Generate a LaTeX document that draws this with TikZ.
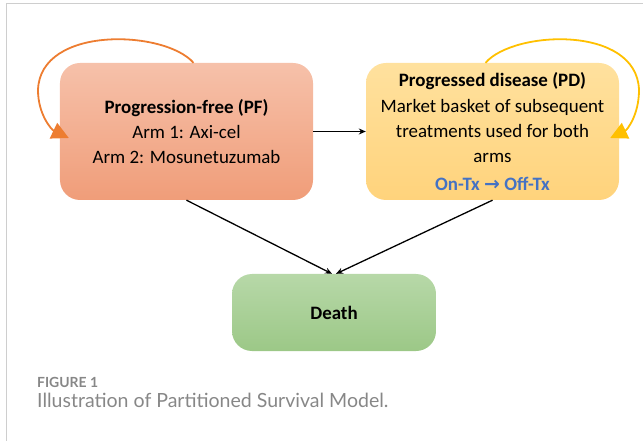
\documentclass[tikz,border=0pt]{standalone}
\usepackage{fontspec}
\setmainfont{Carlito}
\newfontfamily\arrowfont{DejaVu Sans}
\newfontfamily\capfont{Lato}
\usetikzlibrary{arrows.meta}
\definecolor{pfTop}{RGB}{246,193,170}
\definecolor{pfBot}{RGB}{240,157,121}
\definecolor{pdTop}{RGB}{255,225,158}
\definecolor{pdBot}{RGB}{255,211,124}
\definecolor{deTop}{RGB}{183,216,168}
\definecolor{deBot}{RGB}{156,200,135}
\definecolor{loopOrange}{RGB}{237,125,49}
\definecolor{loopYellow}{RGB}{255,192,0}
\definecolor{txBlue}{RGB}{68,114,196}
\definecolor{frameGray}{RGB}{206,206,206}
\definecolor{capGray}{RGB}{135,135,135}
\tikzset{
	state/.style={rounded corners=20bp, inner sep=0pt, align=center, font=\fontsize{19}{25.5}\selectfont},
	trans/.style={-{Stealth[length=7bp,width=6bp]}, line width=1.3bp},
	selfloop/.style={line width=1.8bp, -{Triangle[length=17bp,width=17bp]}},
}
\begin{document}
\begin{tikzpicture}[x=1bp, y=-1bp]
		\useasboundingbox (0,0) rectangle (643,441);
		%frame
		\draw[frameGray, line width=1bp] (643,4) -- (6,4) -- (6,441);
		
		%states
		\node (pf) at (186.5,131.5)[state, minimum width=253bp, minimum height=137bp, top color=pfTop, bottom color=pfBot]{\textbf{Progression-free (PF)}\\Arm 1: Axi-cel\\Arm 2: Mosunetuzumab};
		\node (pd) at (492.5,131.5)[state, minimum width=253bp, minimum height=137bp, top color=pdTop, bottom color=pdBot]{\textbf{Progressed disease (PD)}\\Market basket of subsequent\\treatments used for both\\arms\\[2bp]\color{txBlue}\textbf{On-Tx {\arrowfont →} Off-Tx}};
		\node (death) at (334,312.5)[state, minimum width=204bp, minimum height=77bp, top color=deTop, bottom color=deBot]{\textbf{Death}};
		
		%transitions
		\draw[trans] (pf) -- (pd);
		\draw[trans] (pf.south) -- ([xshift=-2bp]death.north);
		\draw[trans] (pd.south) -- ([xshift=2bp]death.north);
		
		%self loops
		\draw[selfloop, loopOrange] ([xshift=7bp]pf.north) .. controls (165,30) and (40,25) .. (38,90) .. controls (38,115) and (52,130) .. ([xshift=9bp, yshift=-6.5bp]pf.west);
		\draw[selfloop, loopYellow] ([xshift=-7bp]pd.north) .. controls (514,30) and (637,25) .. (639,90) .. controls (639,115) and (627,130) .. ([xshift=-9bp, yshift=-6.5bp]pd.east);
		
		%caption
		\node (figno) at (37,387)[anchor=base west, inner sep=0pt, text=capGray, font=\capfont\bfseries\fontsize{14}{16}\selectfont]{FIGURE 1};
		\node (figcap) at (37,407)[anchor=base west, inner sep=0pt, text=capGray, font=\capfont\fontsize{19.6}{22}\selectfont]{Illustration of Partitioned Survival Model.};
\end{tikzpicture}
\end{document}
